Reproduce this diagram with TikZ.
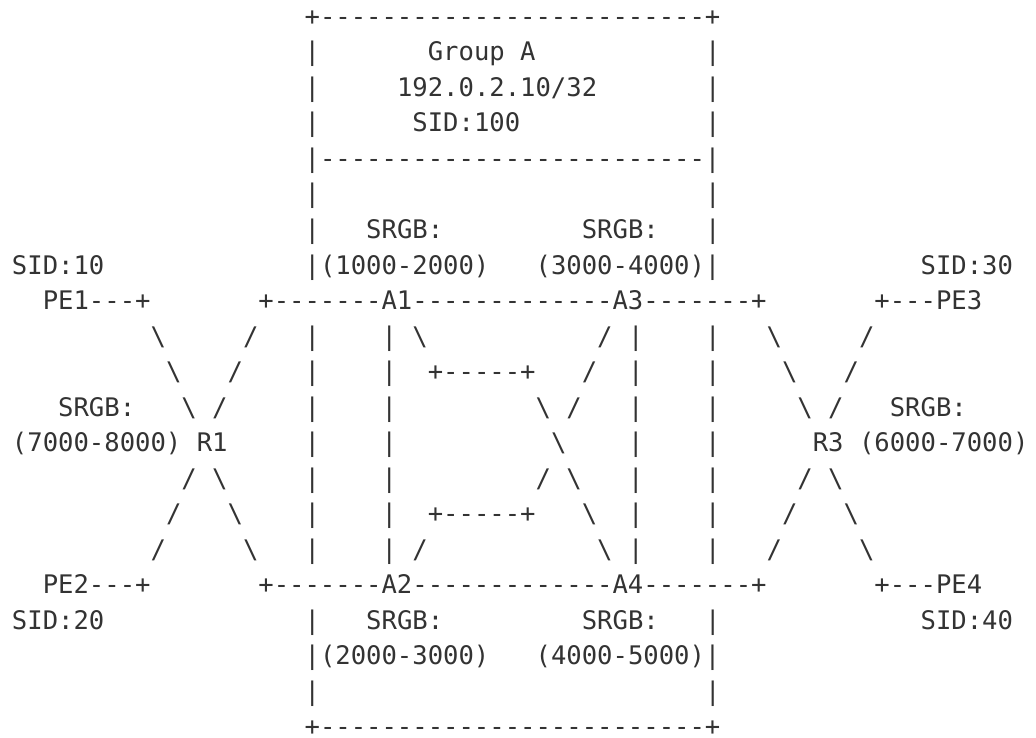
\documentclass[tikz,border=0pt]{standalone}
\usepackage{fontspec}
\setmonofont{DejaVu Sans Mono}
\definecolor{ink}{HTML}{333333}
% #1 = column, #2 = row, #3 = text
\newcommand\ch[3]{\node[txt] (t#2-#1) at ({12+#1*15.4},{25.5+#2*35.5}) {#3};}
\newcommand\bs{\textbackslash}
\begin{document}
\frenchspacing
\begin{tikzpicture}[x=1pt,y=-1pt,
  txt/.style={anchor=base west, inner sep=0pt, outer sep=0pt, text=ink,
    font=\ttfamily\fontsize{25.58pt}{35.5pt}\selectfont}]
\useasboundingbox (0,0) rectangle (1036,738);
% Group A box
\ch{19}{0}{+-------------------------+}
\ch{27}{1}{Group A}
\ch{25}{2}{192.0.2.10/32}
\ch{26}{3}{SID:100}
\ch{19}{4}{|-------------------------|}
\foreach \r in {1,2,3,5,6,9,10,11,12,13,14,15,17,19} {\ch{19}{\r}{|}}
\foreach \r in {1,2,3,5,6,9,10,11,12,13,14,15,17,19} {\ch{45}{\r}{|}}
\ch{19}{20}{+-------------------------+}
% SRGB labels of A1..A4
\ch{23}{6}{SRGB:}
\ch{37}{6}{SRGB:}
\ch{19}{7}{|(1000-2000)}
\ch{34}{7}{(3000-4000)|}
\ch{23}{17}{SRGB:}
\ch{37}{17}{SRGB:}
\ch{19}{18}{|(2000-3000)}
\ch{34}{18}{(4000-5000)|}
% PE labels
\ch{0}{7}{SID:10}
\ch{59}{7}{SID:30}
\ch{0}{17}{SID:20}
\ch{59}{17}{SID:40}
% top and bottom rows
\ch{2}{8}{PE1---+}
\ch{16}{8}{+-------A1-------------A3-------+}
\ch{56}{8}{+---PE3}
\ch{2}{16}{PE2---+}
\ch{16}{16}{+-------A2-------------A4-------+}
\ch{56}{16}{+---PE4}
% inner verticals under A1/A2 and A3/A4
\foreach \r in {9,...,15} {\ch{24}{\r}{|}}
\foreach \r in {9,...,15} {\ch{40}{\r}{|}}
% R1 cross
\ch{9}{9}{\bs}  \ch{15}{9}{/}
\ch{10}{10}{\bs} \ch{14}{10}{/}
\ch{3}{11}{SRGB:}
\ch{11}{11}{\bs} \ch{13}{11}{/}
\ch{0}{12}{(7000-8000)}
\ch{12}{12}{R1}
\ch{11}{13}{/} \ch{13}{13}{\bs}
\ch{10}{14}{/} \ch{14}{14}{\bs}
\ch{9}{15}{/}  \ch{15}{15}{\bs}
% R3 cross
\ch{49}{9}{\bs}  \ch{55}{9}{/}
\ch{50}{10}{\bs} \ch{54}{10}{/}
\ch{51}{11}{\bs} \ch{53}{11}{/}
\ch{57}{11}{SRGB:}
\ch{52}{12}{R3}
\ch{55}{12}{(6000-7000)}
\ch{51}{13}{/} \ch{53}{13}{\bs}
\ch{50}{14}{/} \ch{54}{14}{\bs}
\ch{49}{15}{/} \ch{55}{15}{\bs}
% inner links
\ch{26}{9}{\bs}
\ch{27}{10}{+-----+}
\ch{27}{14}{+-----+}
\ch{26}{15}{/}
\ch{38}{9}{/}
\ch{37}{10}{/}
\ch{34}{11}{\bs} \ch{36}{11}{/}
\ch{35}{12}{\bs}
\ch{34}{13}{/} \ch{36}{13}{\bs}
\ch{37}{14}{\bs}
\ch{38}{15}{\bs}
\end{tikzpicture}
\end{document}
